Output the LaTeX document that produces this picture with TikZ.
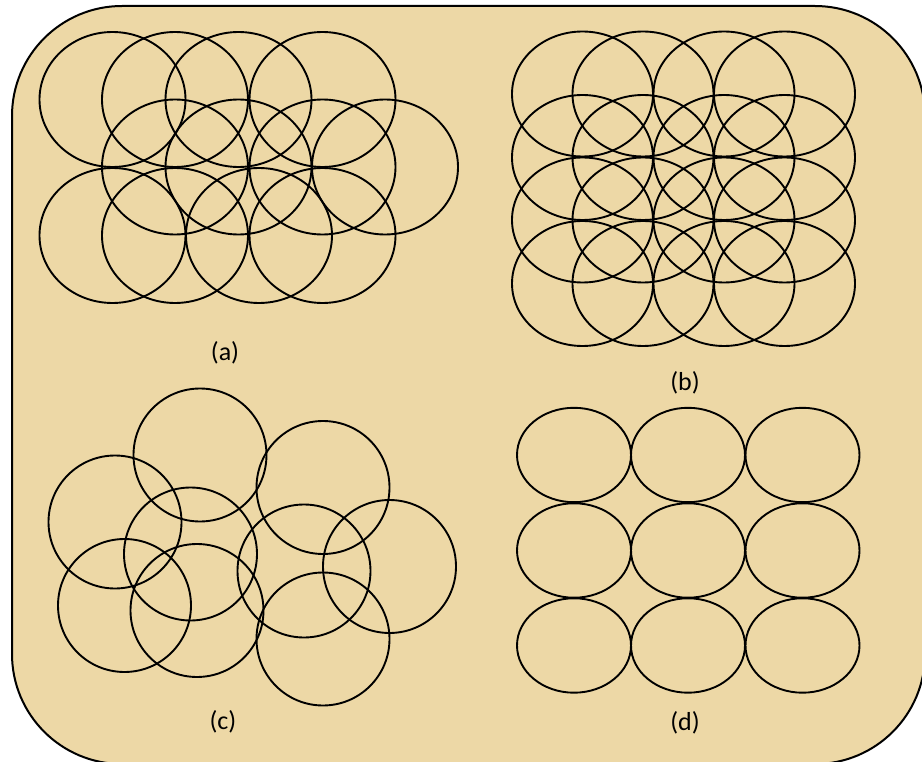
\documentclass[tikz,border=0pt]{standalone}
\usepackage{fontspec}
\setmainfont{Carlito}
\begin{document}
\begin{tikzpicture}[x=1pt,y=-1pt,
  ring/.style={draw=black,line width=1.9pt},
  panel/.style={draw=black,line width=2pt,fill=parch,rounded corners=110pt},
  caption/.style={font=\fontsize{26}{30}\selectfont,inner sep=0pt}]
\definecolor{parch}{RGB}{237,216,166}
\useasboundingbox (0,0) rectangle (922,762);
\path[panel] (12,6) rectangle (925,764);
% (a)
\foreach \x in {112.5,175,238.5,322.5} \draw[ring] (\x,99.5) ellipse [x radius=73, y radius=67.5];
\foreach \x in {175,238.5,322.5,385} \draw[ring] (\x,167) ellipse [x radius=73, y radius=67.5];
\foreach \x in {112.5,175,259,322.5} \draw[ring] (\x,235.5) ellipse [x radius=73, y radius=67.5];
% (b)
\foreach \y in {94,157.5,220,283.5}
  \foreach \x in {582.5,643,724,784.5}
    \draw[ring] (\x,\y) ellipse [x radius=70.5, y radius=62.5];
% (c)
\foreach \p in {(200,455),(115,522),(190.5,554),(124.5,605.5),(197,610.5),(323,487.5),(304,571),(389.5,566.5),(323,639)}
  \draw[ring] \p circle [radius=66.5];
% (d)
\foreach \y in {455,550.5,645.5}
  \foreach \x in {574,688,802.5}
    \draw[ring] (\x,\y) ellipse [x radius=57, y radius=47.2];
\node[caption] (la) at (225,353) {(a)};
\node[caption] (lb) at (685,383) {(b)};
\node[caption] (lc) at (223,722) {(c)};
\node[caption] (ld) at (685,723) {(d)};
\end{tikzpicture}
\end{document}
